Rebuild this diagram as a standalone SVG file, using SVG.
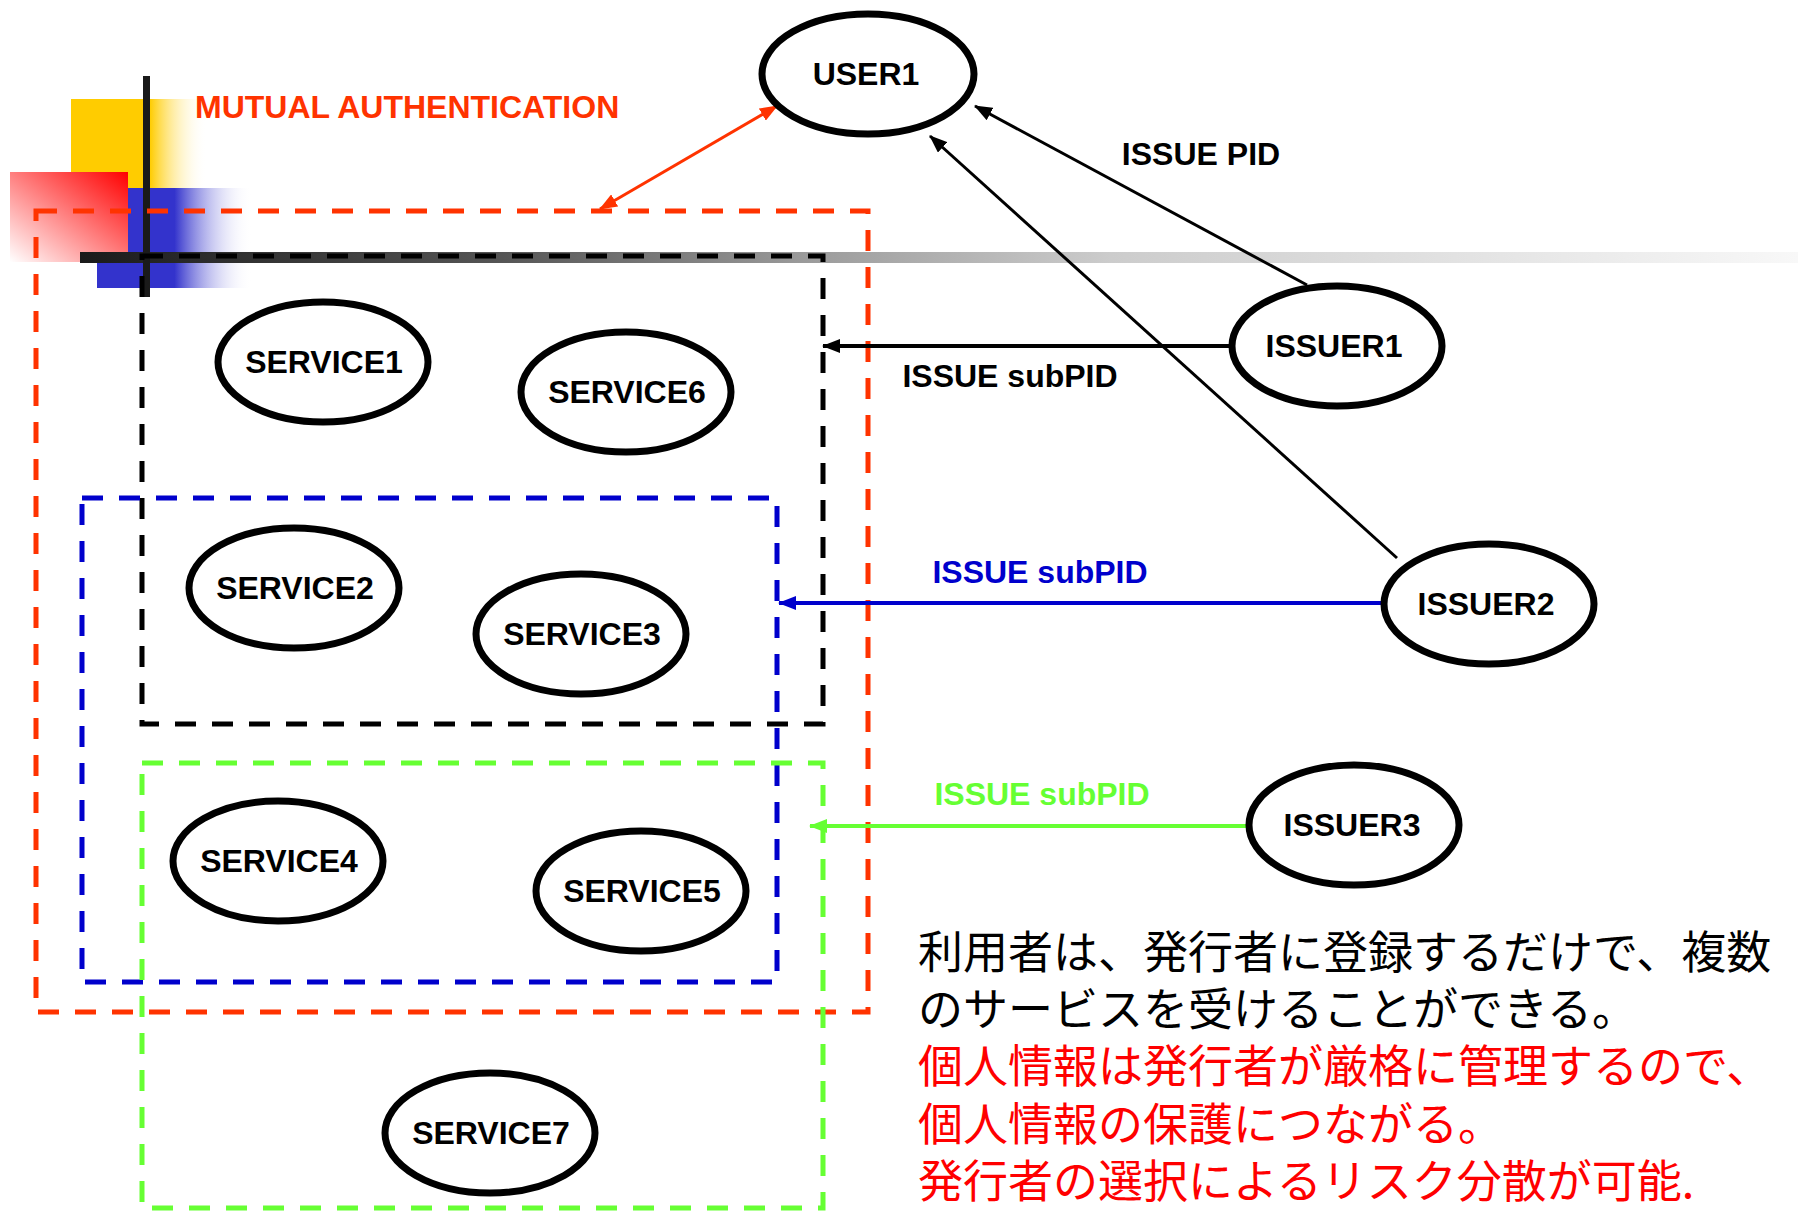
<svg xmlns="http://www.w3.org/2000/svg" width="1798" height="1215" viewBox="0 0 1798 1215">
<style>
.node ellipse{fill:#fff;stroke:#000;stroke-width:7}
.node text{font-family:"Liberation Sans",Arial,sans-serif;font-weight:bold;font-size:32px;text-anchor:middle;fill:#000}
.lbl{font-family:"Liberation Sans",Arial,sans-serif;font-weight:bold;font-size:32px}
.box{fill:none;stroke-width:5;stroke-dasharray:21 16}
.jp{font-family:"Noto Sans CJK JP","Noto Sans CJK SC",sans-serif;font-size:45px}
</style>
<defs>
<linearGradient id="gYellow" x1="0" y1="0" x2="1" y2="0"><stop offset="0" stop-color="#FFCC00"/><stop offset="0.58" stop-color="#FFCC00"/><stop offset="1" stop-color="#FFFFFF" stop-opacity="0"/></linearGradient>
<linearGradient id="gBlue" x1="0" y1="0" x2="1" y2="0"><stop offset="0" stop-color="#3333CC"/><stop offset="0.5" stop-color="#3333CC"/><stop offset="1" stop-color="#FFFFFF" stop-opacity="0"/></linearGradient>
<linearGradient id="gRed" x1="1" y1="0" x2="0" y2="1"><stop offset="0" stop-color="#FF0000"/><stop offset="1" stop-color="#FFFFFF"/></linearGradient>
<linearGradient id="gBar" gradientUnits="userSpaceOnUse" x1="80" y1="0" x2="1798" y2="0"><stop offset="0" stop-color="#1a1a1a"/><stop offset="0.245" stop-color="#555555"/><stop offset="0.42" stop-color="#9a9a9a"/><stop offset="0.6" stop-color="#cccccc"/><stop offset="1" stop-color="#f8f8f8"/></linearGradient>
<marker id="aBlack" markerUnits="userSpaceOnUse" markerWidth="18" markerHeight="14" refX="17" refY="7" orient="auto"><path d="M0,0 L18,7 L0,14 Z" fill="#000"/></marker>
<marker id="aRed" markerUnits="userSpaceOnUse" markerWidth="18" markerHeight="14" refX="17" refY="7" orient="auto-start-reverse"><path d="M0,0 L18,7 L0,14 Z" fill="#FF3300"/></marker>
<marker id="aBlue" markerUnits="userSpaceOnUse" markerWidth="18" markerHeight="14" refX="17" refY="7" orient="auto"><path d="M0,0 L18,7 L0,14 Z" fill="#0000CC"/></marker>
<marker id="aGreen" markerUnits="userSpaceOnUse" markerWidth="18" markerHeight="14" refX="17" refY="7" orient="auto"><path d="M0,0 L18,7 L0,14 Z" fill="#66FF33"/></marker>
</defs>
<rect width="1798" height="1215" fill="#fff"/>
<g id="decor">
<rect x="71" y="99" width="136" height="89" fill="url(#gYellow)"/>
<rect x="97" y="188" width="155" height="100" fill="url(#gBlue)"/>
<rect x="10" y="172" width="118" height="90" fill="url(#gRed)"/>
<rect x="80" y="252" width="1718" height="11" fill="url(#gBar)"/>
<rect x="143" y="76" width="7" height="221" fill="#1a1a1a"/>
</g>
<g id="groups">
<rect id="box-red" class="box" x="36" y="211" width="832" height="801" stroke="#FF3300"/>
<rect id="box-black" class="box" x="142" y="256" width="681" height="468" stroke="#000"/>
<rect id="box-blue" class="box" x="82" y="498" width="695" height="484" stroke="#0000CC"/>
<rect id="box-green" class="box" x="142" y="763" width="681" height="445" stroke="#66FF33"/>
</g>
<g id="connectors">
<line x1="600" y1="209" x2="777" y2="106" stroke="#FF3300" stroke-width="3" marker-start="url(#aRed)" marker-end="url(#aRed)"/>
<line x1="1307" y1="285" x2="975" y2="106" stroke="#000" stroke-width="3" marker-end="url(#aBlack)"/>
<line x1="1397" y1="558" x2="930" y2="136" stroke="#000" stroke-width="3" marker-end="url(#aBlack)"/>
<line x1="1230" y1="346" x2="823" y2="346" stroke="#000" stroke-width="4" marker-end="url(#aBlack)"/>
<line x1="1381" y1="603" x2="779" y2="603" stroke="#0000CC" stroke-width="4" marker-end="url(#aBlue)"/>
<line x1="1246" y1="826" x2="810" y2="826" stroke="#66FF33" stroke-width="4" marker-end="url(#aGreen)"/>
</g>
<g id="labels">
<text class="lbl" x="195" y="118" fill="#FF3300">MUTUAL AUTHENTICATION</text>
<text class="lbl" x="1201" y="165" fill="#000" text-anchor="middle">ISSUE PID</text>
<text class="lbl" x="1010" y="387" fill="#000" text-anchor="middle">ISSUE subPID</text>
<text class="lbl" x="1040" y="583" fill="#0000CC" text-anchor="middle">ISSUE subPID</text>
<text class="lbl" x="1042" y="805" fill="#66FF33" text-anchor="middle">ISSUE subPID</text>
</g>
<g id="user1" class="node"><ellipse cx="868" cy="74" rx="106" ry="60"/><text x="866" y="85">USER1</text></g>
<g id="issuer1" class="node"><ellipse cx="1337" cy="346" rx="105" ry="60"/><text x="1334" y="357">ISSUER1</text></g>
<g id="issuer2" class="node"><ellipse cx="1489" cy="604" rx="105" ry="60"/><text x="1486" y="615">ISSUER2</text></g>
<g id="issuer3" class="node"><ellipse cx="1354" cy="825" rx="105" ry="60"/><text x="1352" y="836">ISSUER3</text></g>
<g id="service1" class="node"><ellipse cx="323" cy="362" rx="105" ry="60"/><text x="324" y="373">SERVICE1</text></g>
<g id="service6" class="node"><ellipse cx="626" cy="392" rx="105" ry="60"/><text x="627" y="403">SERVICE6</text></g>
<g id="service2" class="node"><ellipse cx="294" cy="588" rx="105" ry="60"/><text x="295" y="599">SERVICE2</text></g>
<g id="service3" class="node"><ellipse cx="581" cy="634" rx="105" ry="60"/><text x="582" y="645">SERVICE3</text></g>
<g id="service4" class="node"><ellipse cx="278" cy="861" rx="105" ry="60"/><text x="279" y="872">SERVICE4</text></g>
<g id="service5" class="node"><ellipse cx="641" cy="891" rx="105" ry="60"/><text x="642" y="902">SERVICE5</text></g>
<g id="service7" class="node"><ellipse cx="490" cy="1133" rx="105" ry="60"/><text x="491" y="1144">SERVICE7</text></g>
<g id="note">
<text class="jp" x="918" y="969" fill="#000">利用者は、発行者に登録するだけで、複数</text>
<text class="jp" x="918" y="1026" fill="#000">のサービスを受けることができる。</text>
<text class="jp" x="918" y="1083" fill="#FF0000">個人情報は発行者が厳格に管理するので、</text>
<text class="jp" x="918" y="1141" fill="#FF0000">個人情報の保護につながる。</text>
<text class="jp" x="918" y="1198" fill="#FF0000">発行者の選択によるリスク分散が可能.</text>
</g>
</svg>
